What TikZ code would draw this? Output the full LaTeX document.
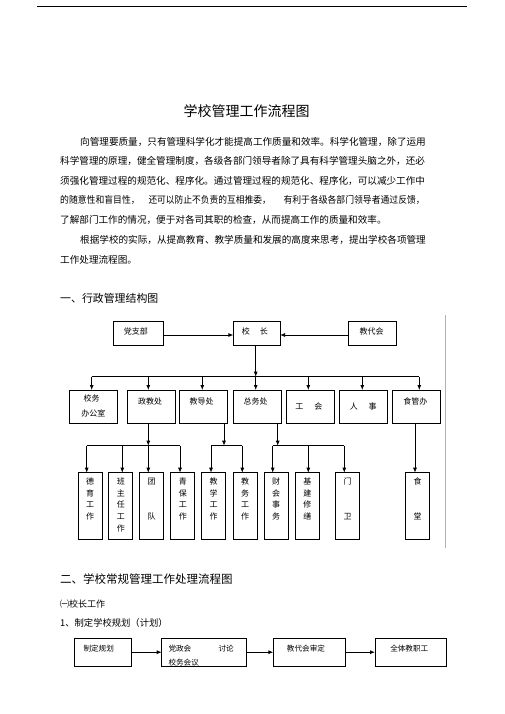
\documentclass[tikz,border=0pt]{standalone}
\usepackage{fontspec}
\usepackage{graphicx}
\setmainfont{Noto Sans CJK SC}
\usetikzlibrary{arrows.meta}
\newcommand{\myfs}[1]{\fontsize{#1}{#1}\selectfont}
\begin{document}
\begin{tikzpicture}[x=1pt,y=-1pt,
  box/.style={draw, line width=0.8pt, inner sep=0pt, outer sep=0pt},
  mbox/.style={box, minimum width=48pt, minimum height=33pt},
  sbox/.style={box, minimum width=24pt, minimum height=67pt},
  cj/.style={inner sep=0pt, text height=.88em, text depth=.12em},
  para/.style={cj, anchor=west, font=\myfs{9.6}},
  lb/.style={cj, anchor=north, font=\myfs{8}},
  lbs/.style={cj, anchor=north west, font=\myfs{7.6}},
  vl/.style={inner sep=0pt, anchor=north, align=center, font=\fontsize{8}{11.67}\selectfont},
  arr/.style={line width=0.8pt, -{Latex[length=5pt,width=4pt]}},
  ln/.style={line width=0.8pt},
  label distance=0pt]
\fill[white] (0,0) rectangle (505,714);
\useasboundingbox (0,0) rectangle (505,714);

% header rule
\coordinate (hl) at (37,6);
\coordinate (hr) at (467,6);
\draw[line width=0.9pt] (hl) -- (hr);

% title and text
\node[cj, font=\myfs{14}] (title) at (246.7,113) {学校管理工作流程图};
\node[para] (p1) at (80,141.7) {向管理要质量，只有管理科学化才能提高工作质量和效率。科学化管理，除了运用};
\node[para] (p2) at (60,161) {科学管理的原理，健全管理制度，各级各部门领导者除了具有科学管理头脑之外，还必};
\node[para] (p3) at (60,181) {须强化管理过程的规范化、程序化。通过管理过程的规范化、程序化，可以减少工作中};
\node[para] (p4a) at (60,200) {\scalebox{0.92}[1]{的随意性和盲目性，}};
\node[para] (p4b) at (148.3,200) {\scalebox{0.91}[1]{还可以防止不负责的互相推委，}};
\node[para] (p4c) at (283.3,200) {\scalebox{0.92}[1]{有利于各级各部门领导者通过反馈，}};
\node[para] (p5) at (60,219.5) {了解部门工作的情况，便于对各司其职的检查，从而提高工作的质量和效率。};
\node[para] (p6) at (80,240) {根据学校的实际，从提高教育、教学质量和发展的高度来思考，提出学校各项管理};
\node[para] (p7) at (60,260) {工作处理流程图。};

\node[cj, anchor=west, font=\myfs{10.9}] (h1) at (60,299) {一、行政管理结构图};

% right gray rule
\coordinate (gt) at (445.7,315);
\coordinate (gb) at (445.7,548.3);
\draw[gray!60, line width=0.6pt] (gt) -- (gb);

% ---- org chart top row
\node[box, minimum width=50pt, minimum height=23.3pt,
  label={[lb, xshift=-2.5pt, yshift=-4.3pt]north:党支部}] (dzb) at (138.3,333.3) {};
\node[box, minimum width=46.7pt, minimum height=23.3pt,
  label={[lb, xshift=-1.9pt, yshift=-4.3pt]north:校\hspace{10pt}长}] (xz) at (256.7,333.3) {};
\node[box, minimum width=48.3pt, minimum height=23.3pt,
  label={[lb, xshift=-0.8pt, yshift=-4.3pt]north:教代会}] (jdh) at (372.5,333.3) {};
\draw[arr] ([yshift=-1.7pt]dzb.east) -- ([yshift=-1.7pt]xz.west);
\draw[arr] ([yshift=-1.7pt]jdh.west) -- ([yshift=-1.7pt]xz.east);

% ---- middle row
\node[mbox, label={[lb, xshift=-1.3pt, yshift=-2.7pt]north:校务},
      label={[lb, xshift=0.3pt, yshift=-17.7pt]north:办公室}] (xwb) at (93,406.5) {};
\node[mbox, label={[lb, xshift=-1.2pt, yshift=-5.3pt]north:政教处}] (zjc) at (151.2,406.5) {};
\node[mbox, label={[lb, xshift=-1.6pt, yshift=-5.3pt]north:教导处}] (jdc) at (203.3,406.5) {};
\node[mbox, label={[lb, xshift=-1.3pt, yshift=-5.3pt]north:总务处}] (zwc) at (257,406.5) {};
\node[mbox, label={[lb, xshift=-2pt, yshift=-10pt]north:工\hspace{11pt}会}] (gh) at (310.8,406.5) {};
\node[mbox, label={[lb, xshift=0pt, yshift=-10pt]north:人\hspace{10.7pt}事}] (rs) at (363.3,406.5) {};
\node[mbox, label={[lb, xshift=-1.4pt, yshift=-5.3pt]north:食管办}] (sgb) at (416.7,406.5) {};

\coordinate (b1) at (0,376.7);
\coordinate (xzb) at ([xshift=-1pt]xz.south);
\draw[arr] (xzb) -- (xzb |- b1);
\coordinate (xwbt) at ([xshift=-1.3pt]xwb.north);
\coordinate (zjct) at ([xshift=-2.9pt]zjc.north);
\coordinate (jdct) at ([xshift=-1pt]jdc.north);
\coordinate (zwct) at ([xshift=-1.3pt]zwc.north);
\coordinate (ght) at ([xshift=-2.5pt]gh.north);
\coordinate (rst) at ([xshift=-1pt]rs.north);
\coordinate (sgbt) at ([xshift=2.6pt]sgb.north);
\draw[ln] (xwbt |- b1) -- (sgbt |- b1);
\foreach \t in {xwbt,zjct,jdct,zwct,ght,rst,sgbt}
  \draw[arr] (\t |- b1) -- (\t);

% ---- bottom row of the chart
\node[sbox, label={[vl, yshift=-5pt]north:德\\育\\工\\作}] (dy) at (90,506.2) {};
\node[sbox, label={[vl, yshift=-5pt]north:班\\主\\任\\工\\作}] (bzr) at (120.8,506.2) {};
\node[sbox, label={[vl, yshift=-5pt]north:团\\\phantom{团}\\\phantom{团}\\队}] (td) at (151.7,506.2) {};
\node[sbox, label={[vl, yshift=-5pt]north:青\\保\\工\\作}] (qb) at (182.8,506.2) {};
\node[sbox, label={[vl, yshift=-5pt]north:教\\学\\工\\作}] (jx) at (213.7,506.2) {};
\node[sbox, label={[vl, yshift=-5pt]north:教\\务\\工\\作}] (jw) at (245,506.2) {};
\node[sbox, label={[vl, yshift=-5pt]north:财\\会\\事\\务}] (ck) at (276,506.2) {};
\node[sbox, label={[vl, yshift=-5pt]north:基\\建\\修\\缮}] (jj) at (307.3,506.2) {};
\node[sbox, label={[vl, yshift=-5pt]north:门\\\phantom{门}\\\phantom{门}\\卫}] (mw) at (347.5,506.2) {};
\node[sbox, label={[vl, yshift=-5pt]north:食\\\phantom{食}\\\phantom{食}\\堂}] (st) at (417.7,506.2) {};

\coordinate (b2) at (0,445.7);
% 政教处
\coordinate (zjcb) at ([xshift=-2.9pt]zjc.south);
\coordinate (dyt) at ([xshift=-3.3pt]dy.north);
\coordinate (bzrt) at ([xshift=1.5pt]bzr.north);
\coordinate (tdt) at ([xshift=-3.4pt]td.north);
\coordinate (qbt) at ([xshift=-2.8pt]qb.north);
\draw[arr] (zjcb) -- (zjcb |- b2);
\draw[ln] (dyt |- b2) -- (qbt |- b2);
\foreach \t in {dyt,bzrt,tdt,qbt} \draw[arr] (\t |- b2) -- (\t);
% 教导处
\coordinate (jdcb) at ([xshift=20.7pt]jdc.south);
\coordinate (jxt) at ([xshift=-2.7pt]jx.north);
\coordinate (jwt) at ([xshift=-2.7pt]jw.north);
\draw[arr] (jdcb) -- (jdcb |- b2);
\draw[ln] (jxt |- b2) -- (jwt |- b2);
\foreach \t in {jxt,jwt} \draw[arr] (\t |- b2) -- (\t);
% 总务处
\coordinate (zwcb) at ([xshift=20.7pt]zwc.south);
\coordinate (ckt) at ([xshift=-3.3pt]ck.north);
\coordinate (jjt) at ([xshift=1pt]jj.north);
\coordinate (mwt) at ([xshift=-3.2pt]mw.north);
\draw[arr] (zwcb) -- (zwcb |- b2);
\draw[ln] (ckt |- b2) -- (mwt |- b2);
\foreach \t in {ckt,jjt,mwt} \draw[arr] (\t |- b2) -- (\t);
% 食管办
\coordinate (sgbb) at ([xshift=-1.7pt]sgb.south);
\coordinate (stt) at ([xshift=-2.7pt]st.north);
\draw[arr] (sgbb) -- (stt);

% ---- section two
\node[cj, anchor=west, font=\myfs{11.5}] (h2) at (60,580) {二、学校常规管理工作处理流程图};
\node[cj, anchor=west, font=\myfs{9}] (h3) at (60,603.3) {㈠校长工作};
\node[cj, anchor=west, font=\myfs{9.3}] (h4) at (60,622.7) {1、制定学校规划（计划）};

\node[box, minimum width=57.4pt, minimum height=27.7pt,
  label={[lbs, xshift=9pt, yshift=-4.6pt]north west:制定规划}] (zdgh) at (103,652.2) {};
\node[box, minimum width=85pt, minimum height=27.7pt,
  label={[lbs, xshift=6.6pt, yshift=-4.6pt]north west:党政会},
  label={[lbs, xshift=56.6pt, yshift=-4.6pt]north west:讨论},
  label={[lbs, xshift=6.6pt, yshift=-17.9pt]north west:校务会议}] (dzh) at (204.2,652.2) {};
\node[box, minimum width=71.7pt, minimum height=27.7pt,
  label={[lbs, xshift=13.4pt, yshift=-4.6pt]north west:教代会审定}] (jdsd) at (309.2,652.2) {};
\node[box, minimum width=71.7pt, minimum height=27.7pt,
  label={[lbs, xshift=15pt, yshift=-4.6pt]north west:全体教职工}] (qt) at (410.9,652.2) {};
\draw[arr] (zdgh.east) -- (dzh.west);
\draw[arr] (dzh.east) -- (jdsd.west);
\draw[arr] (jdsd.east) -- (qt.west);
\end{tikzpicture}
\end{document}
